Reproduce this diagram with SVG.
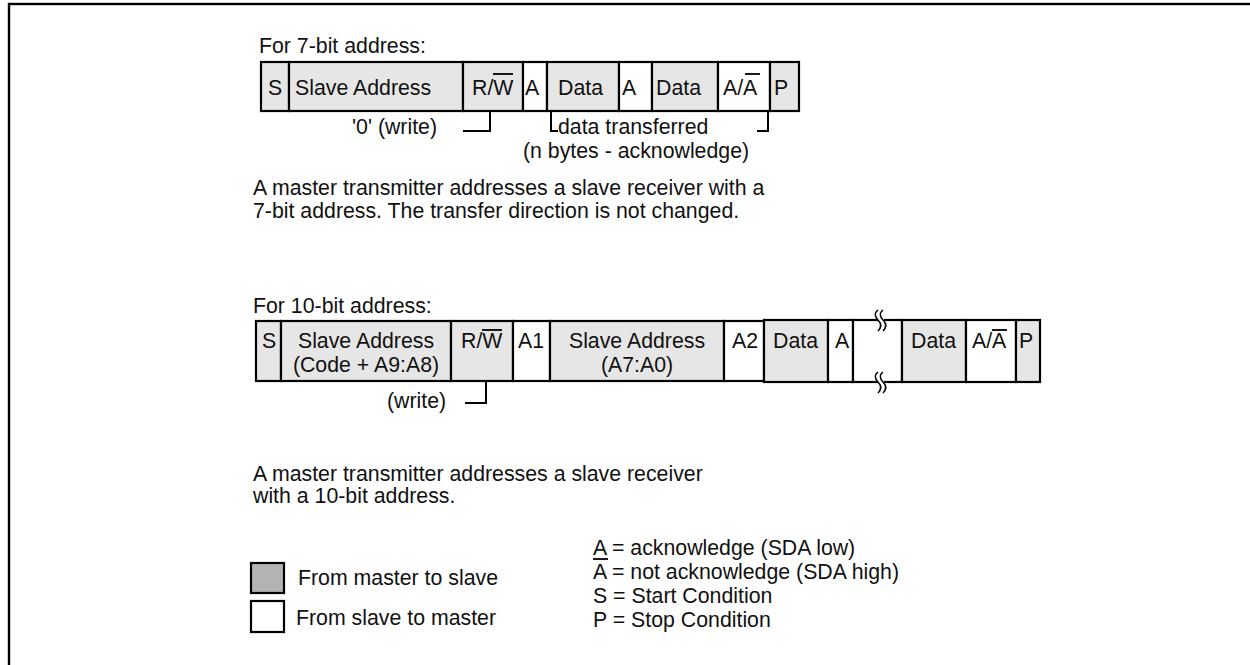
<svg xmlns="http://www.w3.org/2000/svg" width="1250" height="665" viewBox="0 0 1250 665">
<style>
text { font-family: "Liberation Sans", Arial, Helvetica, sans-serif; font-size: 21.3px; fill: #111; }
.g { fill: #e6e6e6; stroke: #000; stroke-width: 2.2; }
.w { fill: #fff; stroke: #000; stroke-width: 2.2; }
.ln { stroke: #000; stroke-width: 2; fill: none; }
.ov { stroke: #000; stroke-width: 1.8; }
.mid { text-anchor: middle; }
.brk { stroke: #000; stroke-width: 1.5; fill: none; }
</style>
<rect id="frame" x="9" y="4" width="1300" height="700" fill="#fff" stroke="#000" stroke-width="2.4"/>

<!-- 7-bit address frame -->
<text id="title7" x="259" y="53">For 7-bit address:</text>
<g id="r1-S"><rect class="g" x="261" y="62" width="28" height="49"/><text x="268" y="95">S</text></g>
<g id="r1-addr"><rect class="g" x="289" y="62" width="174" height="49"/><text x="295" y="95">Slave Address</text></g>
<g id="r1-rw"><rect class="g" x="463" y="62" width="60" height="49"/><text x="472" y="95">R/W</text><line class="ov" x1="493" y1="74" x2="513" y2="74"/></g>
<g id="r1-A1"><rect class="w" x="523" y="62" width="24" height="49"/><text x="525" y="95">A</text></g>
<g id="r1-data1"><rect class="g" x="547" y="62" width="72" height="49"/><text x="558" y="95">Data</text></g>
<g id="r1-A2"><rect class="w" x="619" y="62" width="33" height="49"/><text x="622" y="95">A</text></g>
<g id="r1-data2"><rect class="g" x="652" y="62" width="66" height="49"/><text x="656" y="95">Data</text></g>
<g id="r1-AnA"><rect class="w" x="718" y="62" width="52" height="49"/><text x="723" y="95">A/A</text><line class="ov" x1="745" y1="74" x2="760" y2="74"/></g>
<g id="r1-P"><rect class="g" x="770" y="62" width="29" height="49"/><text x="774" y="95">P</text></g>

<g id="r1-notes">
<text x="352" y="134">'0' (write)</text>
<text x="558" y="134">data transferred</text>
<text x="523" y="158">(n bytes - acknowledge)</text>
</g>

<text id="desc7" x="253" y="195">A master transmitter addresses a slave receiver with a<tspan x="253" y="218">7-bit address. The transfer direction is not changed.</tspan></text>

<!-- 10-bit address frame -->
<text id="title10" x="253" y="313">For 10-bit address:</text>
<g id="r2-S"><rect class="g" x="256" y="321" width="25" height="60"/><text x="262" y="348">S</text></g>
<g id="r2-addr1"><rect class="g" x="281" y="321" width="170" height="60"/><text class="mid" x="366" y="348">Slave Address</text><text class="mid" x="366" y="372">(Code + A9:A8)</text></g>
<g id="r2-rw"><rect class="g" x="451" y="321" width="62" height="60"/><text x="461" y="348">R/W</text><line class="ov" x1="482" y1="330" x2="502" y2="330"/></g>
<g id="r2-A1"><rect class="w" x="513" y="321" width="37" height="60"/><text x="518" y="348">A1</text></g>
<g id="r2-addr2"><rect class="g" x="550" y="321" width="174" height="60"/><text class="mid" x="637" y="348">Slave Address</text><text class="mid" x="637" y="372">(A7:A0)</text></g>
<g id="r2-A2"><rect class="w" x="724" y="321" width="40" height="60"/><text x="732" y="348">A2</text></g>
<g id="r2-data1"><rect class="g" x="764" y="320" width="64" height="62"/><text x="773" y="348">Data</text></g>
<g id="r2-A"><rect class="w" x="828" y="320" width="25" height="62"/><text x="835" y="348">A</text></g>
<g id="r2-gap">
<rect class="w" x="853" y="320" width="49" height="62"/>
<rect x="878" y="316" width="6" height="8" fill="#fff"/>
<rect x="878" y="378" width="6" height="8" fill="#fff"/>
<path class="brk" d="M878 310 C874 313 875 317 878 320 S882 327 878 331"/>
<path class="brk" d="M883 310 C879 313 880 317 883 320 S887 327 883 331"/>
<path class="brk" d="M878 372 C874 375 875 379 878 382 S882 389 878 393"/>
<path class="brk" d="M883 372 C879 375 880 379 883 382 S887 389 883 393"/>
</g>
<g id="r2-data2"><rect class="g" x="902" y="320" width="64" height="62"/><text x="911" y="348">Data</text></g>
<g id="r2-AnA"><rect class="w" x="966" y="320" width="50" height="62"/><text x="972" y="348">A/A</text><line class="ov" x1="992" y1="330" x2="1007" y2="330"/></g>
<g id="r2-P"><rect class="g" x="1016" y="320" width="24" height="62"/><text x="1019" y="348">P</text></g>

<text id="r2-note" x="387" y="408">(write)</text>

<text id="desc10" x="253" y="481">A master transmitter addresses a slave receiver<tspan x="253" y="503">with a 10-bit address.</tspan></text>

<!-- legend -->
<g id="legend-m2s"><rect x="251" y="563" width="33" height="30" fill="#b3b3b3" stroke="#000" stroke-width="2.2"/><text x="298" y="585">From master to slave</text></g>
<g id="legend-s2m"><rect x="251" y="601" width="33" height="31" fill="#fff" stroke="#000" stroke-width="2.2"/><text x="296" y="625">From slave to master</text></g>
<g id="legend-keys">
<text x="593" y="555">A = acknowledge (SDA low)</text>
<line class="ov" x1="593" y1="559" x2="608" y2="559"/>
<text x="593" y="579">A = not acknowledge (SDA high)</text>
<text x="593" y="603">S = Start Condition</text>
<text x="593" y="627">P = Stop Condition</text>
</g>

<g id="connectors">
<polyline class="ln" points="463,131 490,131 490,111"/>
<polyline class="ln" points="551,111 551,131 558,131"/>
<polyline class="ln" points="757,131 768,131 768,111"/>
<polyline class="ln" points="465,403 486,403 486,381"/>
</g>
</svg>
